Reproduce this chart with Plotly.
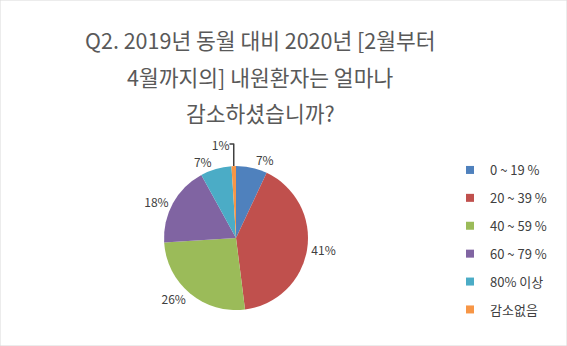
import plotly.graph_objects as go

labels = ['0 ~ 19 %', '20 ~ 39 %', '40 ~ 59 %', '60 ~ 79 %', '80% 이상', '감소없음']
values = [7, 41, 26, 18, 7, 1]
colors = ['#4F81BD', '#C0504D', '#9BBB59', '#8064A2', '#4BACC6', '#F79646']
title_lines = ['Q2. 2019년 동월 대비 2020년 [2월부터', '4월까지의] 내원환자는 얼마나', '감소하셨습니까?']

W, H = 567, 346
FONT = 'Noto Sans CJK KR'

fig = go.Figure()
fig.add_trace(go.Pie(
    labels=labels, values=values, sort=False, direction='clockwise', rotation=0,
    marker=dict(colors=colors, line=dict(width=0)),
    texttemplate='%{value}%', textposition='outside',
    textfont=dict(family=FONT, size=12, color='#404040'),
    showlegend=False, hoverinfo='label+value',
    domain=dict(x=[164 / W, 308 / W], y=[1 - 310 / H, 1 - 166 / H]),
))
for i, (lab, col) in enumerate(zip(labels, colors)):
    fig.add_trace(go.Scatter(
        x=[None], y=[None], mode='markers', name=lab, legendgroup=str(i),
        marker=dict(symbol='square', size=8, color=col),
    ))

ys = [40, 76, 112]
for t, y in zip(title_lines, ys):
    fig.add_annotation(text=t, x=260 / W, y=1 - y / H, xref='paper', yref='paper',
                       showarrow=False, xanchor='center', yanchor='middle',
                       font=dict(family=FONT, size=21.5, color='#595959'))

fig.add_shape(type='rect', xref='paper', yref='paper', x0=0, x1=1, y0=0, y1=1,
              line=dict(color='#D9D9D9', width=1))

fig.update_layout(
    width=W, height=H, margin=dict(l=0, r=0, t=0, b=0),
    paper_bgcolor='white', plot_bgcolor='white',
    xaxis=dict(visible=False), yaxis=dict(visible=False),
    legend=dict(x=450 / W, y=1 - 155 / H, xanchor='left', yanchor='top',
                tracegroupgap=8, font=dict(family=FONT, size=13, color='#404040'),
                bgcolor='rgba(0,0,0,0)'),
)
fig.write_html('out.html')
